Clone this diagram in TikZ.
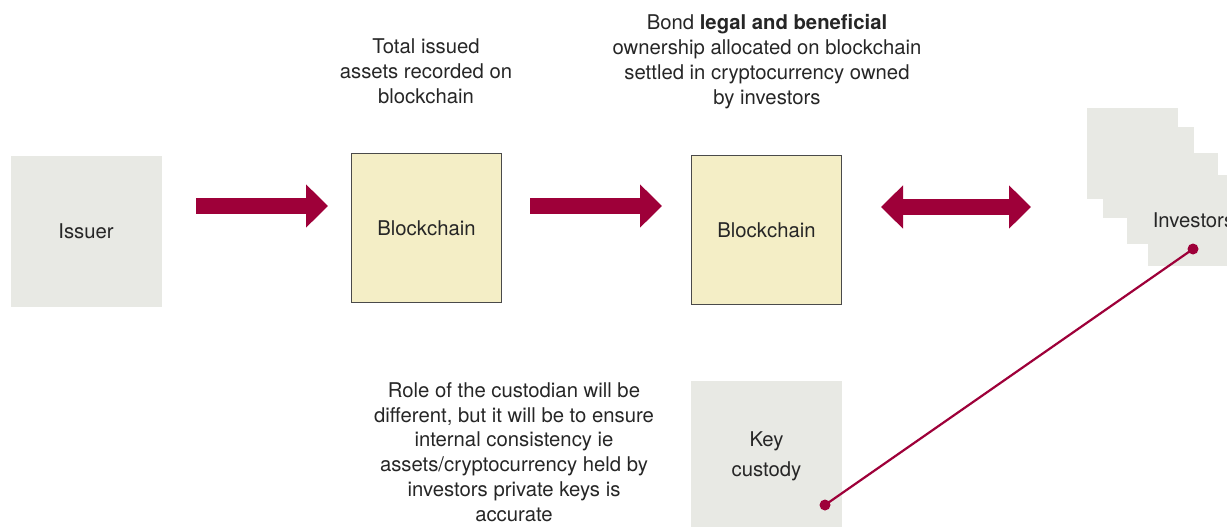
\documentclass[tikz,border=0pt]{standalone}
\usepackage{fontspec}
\setmainfont{TeX Gyre Heros}
\usetikzlibrary{arrows.meta}
\definecolor{crimson}{HTML}{9E0039}
\definecolor{boxgrey}{HTML}{E8E9E4}
\definecolor{chainfill}{HTML}{F4EEC6}
\definecolor{chainedge}{HTML}{4A4A4A}
\tikzset{
  txt/.style={font=\fontsize{20.3}{24.8}\selectfont, text=black!85, align=center},
  greybox/.style={fill=boxgrey, draw=none, minimum width=151pt, minimum height=151pt, inner sep=0pt, txt},
  chainbox/.style={fill=chainfill, draw=chainedge, line width=1pt, minimum width=150pt, minimum height=149pt, inner sep=0pt, txt},
  invbox/.style={fill=boxgrey, draw=none, minimum width=91pt, minimum height=91pt, inner sep=0pt, txt},
  flow/.style={crimson, line width=16pt, -{Triangle[width=42pt,length=22pt]}},
  flowboth/.style={crimson, line width=16pt, {Triangle[width=42pt,length=22pt]}-{Triangle[width=42pt,length=22pt]}},
  link/.style={crimson, line width=2.2pt},
  dot/.style={circle, fill=crimson, inner sep=0pt, minimum size=11pt},
}
\begin{document}
\begin{tikzpicture}[x=1pt,y=-1pt]
\useasboundingbox (0,0) rectangle (1227,527);
\clip (0,0) rectangle (1227,527);

% main chain
\node[greybox] (issuer) at (86,231) {Issuer};
\node[chainbox] (chain1) at (426.5,228) {Blockchain};
\node[chainbox] (chain2) at (766.5,230) {Blockchain};
\node[greybox, minimum height=150pt] (keys) at (766.5,456) {Key\\[5pt]custody};

% stacked investor boxes
\node[invbox] (inv1) at (1132.5,153.5) {};
\node[invbox] (inv2) at (1148.5,172) {};
\node[invbox] (inv3) at (1172.5,198) {};
\node[invbox] (inv4) at (1193.5,220.5) {Investors};

% captions
\node[txt] (cap1) at (426,71) {Total issued\\assets recorded on\\blockchain};
\node[txt] (cap2) at (767,61.5) {Bond \textbf{legal and beneficial}\\ownership allocated on blockchain\\settled in cryptocurrency owned\\by investors};
\node[txt] (cap3) at (514,452) {Role of the custodian will be\\different, but it will be to ensure\\internal consistency ie\\assets/cryptocurrency held by\\investors private keys is\\accurate};

% flow arrows
\coordinate (a1s) at (196,206);
\coordinate (a1e) at (328,206);
\coordinate (a2s) at (530,206);
\coordinate (a2e) at (662,206);
\coordinate (a3s) at (881,207);
\coordinate (a3e) at (1031,207);
\draw[flow] (a1s) -- (a1e);
\draw[flow] (a2s) -- (a2e);
\draw[flowboth] (a3s) -- (a3e);

% custody link
\node[dot] (d1) at (825,505) {};
\node[dot] (d2) at (1193,249) {};
\draw[link] (d1.center) -- (d2.center);
\end{tikzpicture}
\end{document}
